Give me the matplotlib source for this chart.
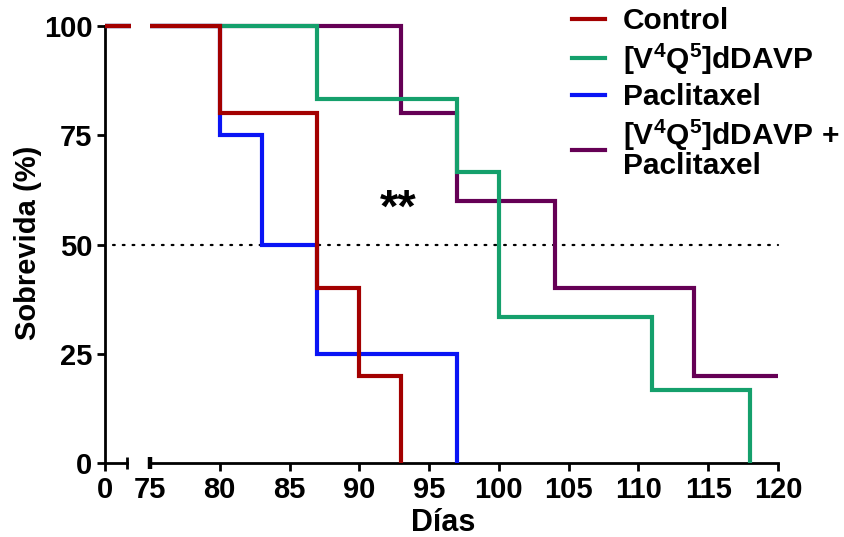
import numpy as np
import matplotlib
matplotlib.use("Agg")
import matplotlib.pyplot as plt
from matplotlib import font_manager as fm
import matplotlib.transforms as mtransforms

names = {f.name for f in fm.fontManager.ttflist}
narrow = 'Liberation Sans Narrow' if 'Liberation Sans Narrow' in names else 'Liberation Sans'

plt.rcParams['font.family'] = ['Liberation Sans', 'DejaVu Sans']
plt.rcParams['mathtext.default'] = 'regular'

# ---- data ----
series_labels = ['Control', '[V$^4$Q$^5$]dDAVP', 'Paclitaxel', '[V$^4$Q$^5$]dDAVP +\nPaclitaxel']
series_colors = ['#a30000', '#15a06c', '#0a14f5', '#650055']
control_t = [0, 80, 87, 90, 93]
control_s = [100, 80, 40, 20, 0]
v4q5_t = [0, 87, 97, 100, 111, 118]
v4q5_s = [100, 83.33, 66.67, 33.33, 16.67, 0]
pacli_t = [0, 80, 83, 87, 97]
pacli_s = [100, 75, 50, 25, 0]
combo_t = [0, 93, 97, 104, 114, 120]
combo_s = [100, 80, 60, 40, 20, 20]
series_t = [control_t, v4q5_t, pacli_t, combo_t]
series_s = [control_s, v4q5_s, pacli_s, combo_s]
draw_order = [3, 1, 2, 0]
yticks = [0, 25, 50, 75, 100]
xticks_right = list(range(75, 121, 5))
median_line = 50
annot_text = '**'
annot_x, annot_y = 92.8, 58

W, H = 844, 537
fig = plt.figure(figsize=(W / 100, H / 100), dpi=100)
bot = 1 - 463 / H
hgt = (463 - 26) / H
ax1 = fig.add_axes([105 / W, bot, 22 / W, hgt])
ax2 = fig.add_axes([150 / W, bot, (778 - 150) / W, hgt])

ax1.set_xlim(0, 3)
ax2.set_xlim(75, 120)
for ax in (ax1, ax2):
    ax.set_ylim(0, 100)
    ax.spines['top'].set_visible(False)
    ax.spines['right'].set_visible(False)
    ax.patch.set_alpha(0)
ax2.spines['left'].set_visible(False)
ax2.tick_params(axis='y', left=False, labelleft=False)

lw = 3.0
for i in draw_order:
    t = np.array(series_t[i], float)
    s = np.array(series_s[i], float)
    c = series_colors[i]
    tr = np.maximum(t, 75)
    ax2.step(tr, s, where='post', color=c, lw=lw, clip_on=False,
             solid_capstyle='butt', solid_joinstyle='miter', zorder=3 + draw_order.index(i))
    lo, hi = ax1.get_xlim()
    tl = np.minimum(t[t <= hi + 0.5], hi + 0.5)
    sl = s[:len(tl)]
    tl = np.append(tl, hi + 0.5)
    sl = np.append(sl, sl[-1])
    ax1.step(tl, sl, where='post', color=c, lw=lw, clip_on=False,
             solid_capstyle='butt', zorder=3 + draw_order.index(i))

handles = []
for i in range(4):
    h, = ax2.plot([], [], color=series_colors[i], lw=lw, label=series_labels[i])
    handles.append(h)

trans = mtransforms.blended_transform_factory(ax2.transAxes, ax2.transData)
x0 = (113 - 150) / (778 - 150)
ax2.plot([x0, 1], [median_line, median_line], transform=trans, color='black',
         lw=1.6, ls=(0, (0.8, 3.6)), dash_capstyle='round', clip_on=False, zorder=2)

for ax in (ax1, ax2):
    for sp in ax.spines.values():
        sp.set_linewidth(2.0)
    ax.tick_params(axis='both', direction='out', length=6, width=2.0, pad=3)
ax1.set_yticks(yticks)
ax1.set_yticklabels([str(v) for v in yticks], fontsize=21, fontweight='bold')
ax1.set_xticks([0])
ax1.set_xticklabels(['0'], family=[narrow, 'Liberation Sans'], fontsize=21, fontweight='bold')
ax2.set_xticks(xticks_right)
ax2.set_xticklabels([str(v) for v in xticks_right], family=[narrow, 'Liberation Sans'],
                    fontsize=21, fontweight='bold')
ax2.xaxis.get_major_ticks()[0].tick1line.set_visible(False)

ax1.plot([1], [0], transform=ax1.transAxes, marker='|', markersize=9, mew=2.0,
         color='black', clip_on=False)
ax2.plot([0], [0], transform=ax2.transAxes, marker='|', markersize=9, mew=3.2,
         color='black', clip_on=False)

ax2.text(annot_x, annot_y, annot_text, fontsize=34, fontweight='bold', ha='center', va='center')

fig.text(28 / W, 1 - 243 / H, 'Sobrevida (%)', rotation=90, ha='center', va='center',
         fontsize=21, fontweight='bold')
fig.text(443 / W, 1 - 523 / H, 'Días', ha='center', va='center',
         family=[narrow, 'Liberation Sans'], fontsize=22, fontweight='bold')

leg = fig.legend(handles=handles, loc='upper left', bbox_to_anchor=(572 / W, 1 - 7 / H),
                 frameon=False, prop={'size': 21.5, 'weight': 'bold'}, handlelength=1.1,
                 handletextpad=0.6, labelspacing=0.22, borderpad=0, borderaxespad=0)
leg.get_texts()[3].set_linespacing(0.95)

fig.savefig('out.png', dpi=100)
